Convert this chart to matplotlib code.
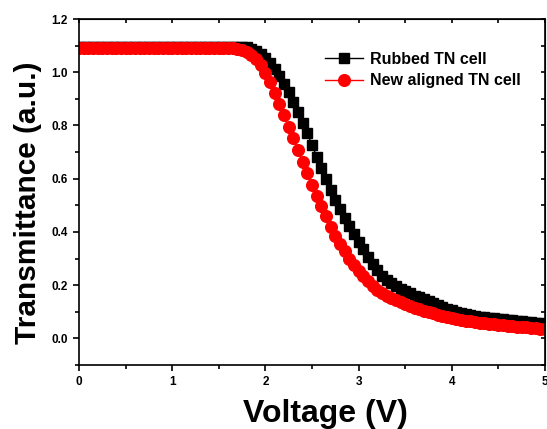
import numpy as np
import matplotlib.pyplot as plt

plt.rcParams['font.family'] = ['Liberation Sans', 'DejaVu Sans']
plt.rcParams['font.weight'] = 'bold'

# voltage steps (V)
voltage = np.round(np.arange(0, 5.001, 0.05), 2)

# rubbed TN cell
flat_rubbed = [1.095] * 35  # 0 .. 1.70
rubbed = flat_rubbed + [
    1.096, 1.093, 1.088, 1.080, 1.069, 1.054, 1.034, 1.011, 0.985, 0.956,
    0.924, 0.889, 0.851, 0.811, 0.770, 0.727, 0.683, 0.641, 0.599, 0.557,
    0.520, 0.485, 0.453, 0.422, 0.392, 0.362, 0.334, 0.306, 0.280, 0.256,
    0.236, 0.220, 0.207, 0.196, 0.186, 0.177, 0.169, 0.161, 0.154, 0.147,
    0.140, 0.133, 0.126, 0.119, 0.112, 0.106, 0.101, 0.096, 0.092, 0.088,
    0.085, 0.082, 0.080, 0.078, 0.076, 0.074, 0.072, 0.070, 0.068, 0.066,
    0.064, 0.062, 0.060, 0.058, 0.056, 0.055]

# new aligned TN cell
flat_new = [1.092] * 32  # 0 .. 1.55
new_aligned = flat_new + [
    1.092, 1.091, 1.089, 1.085, 1.077, 1.066, 1.050, 1.028, 0.998, 0.962,
    0.922, 0.880, 0.838, 0.795, 0.752, 0.708, 0.664, 0.622, 0.578, 0.536,
    0.496, 0.458, 0.420, 0.386, 0.356, 0.328, 0.300, 0.276, 0.254, 0.234,
    0.214, 0.197, 0.182, 0.170, 0.160, 0.151, 0.143, 0.136, 0.129, 0.122,
    0.116, 0.110, 0.104, 0.099, 0.094, 0.089, 0.085, 0.081, 0.077, 0.073,
    0.070, 0.067, 0.064, 0.061, 0.059, 0.057, 0.055, 0.053, 0.051, 0.049,
    0.047, 0.045, 0.044, 0.042, 0.041, 0.040, 0.038, 0.037, 0.036]

xticks = [0, 1, 2, 3, 4, 5]
yticks = [0.0, 0.2, 0.4, 0.6, 0.8, 1.0, 1.2]

fig = plt.figure(figsize=(5.47, 4.29), dpi=100)
ax = fig.add_axes([79 / 547, 1 - 365 / 429, 466 / 547, 346 / 429])

ax.plot(voltage, rubbed, color='black', lw=1, marker='s', ms=7.2,
        mec='black', mfc='black', label='Rubbed TN cell')
ax.plot(voltage, new_aligned, color='red', lw=1, marker='o', ms=8.4,
        mec='red', mfc='red', label='New aligned TN cell')

ax.set_xlim(0, 5)
ax.set_ylim(-0.1, 1.2)
ax.set_xticks(xticks)
ax.set_xticklabels([str(t) for t in xticks])
ax.set_yticks(yticks)
ax.set_yticklabels(['%.1f' % t for t in yticks])
ax.set_xticks(np.arange(0.5, 5, 1), minor=True)
ax.set_yticks(np.arange(-0.1, 1.2, 0.2), minor=True)
ax.tick_params(which='both', direction='out', width=1.2, labelsize=8.5)
ax.tick_params(which='major', length=4.5)
ax.tick_params(which='minor', length=3)
for s in ax.spines.values():
    s.set_linewidth(1.2)

# inner ticks on top and right, no labels
top = ax.secondary_xaxis('top')
top.set_xticks(xticks)
top.set_xticks(np.arange(0.5, 5, 1), minor=True)
top.tick_params(which='both', direction='in', labeltop=False, width=1.2, length=3)
right = ax.secondary_yaxis('right')
right.set_yticks(yticks)
right.set_yticks(np.arange(-0.1, 1.2, 0.2), minor=True)
right.tick_params(which='both', direction='in', labelright=False, width=1.2, length=3)

ax.set_xlabel('Voltage (V)', fontsize=23, fontweight='bold')
ax.set_ylabel('Transmittance (a.u.)', fontsize=21.5, fontweight='bold')
ax.xaxis.set_label_coords(0.528, -0.098)
ax.yaxis.set_label_coords(-0.08, 0.468)

ax.legend(loc='upper left', bbox_to_anchor=(0.528, 0.905), frameon=False,
          prop={'weight': 'bold', 'size': 11.5}, borderpad=0,
          borderaxespad=0, handlelength=2.4, handletextpad=0.4, labelspacing=0.4)

fig.savefig('out.png', dpi=100)
